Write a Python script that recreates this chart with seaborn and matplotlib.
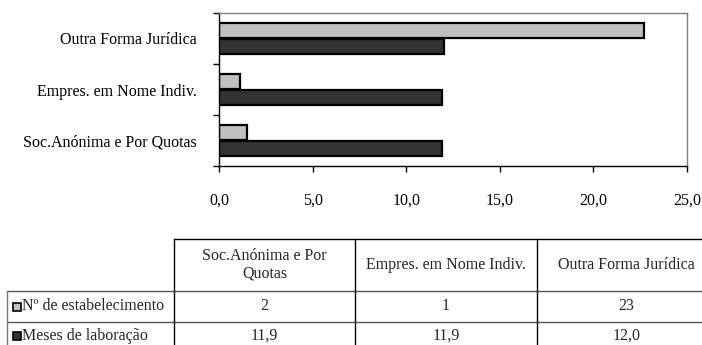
import matplotlib
matplotlib.use("Agg")
import matplotlib.pyplot as plt
import seaborn as sns
import pandas as pd
from matplotlib.patches import Rectangle
from matplotlib.lines import Line2D

# ---- data ----
categories = ["Outra Forma Jurídica", "Empres. em Nome Indiv.", "Soc.Anónima e Por Quotas"]
series = ["Nº de estabelecimento", "Meses de laboração"]
n_estab = [22.7, 1.1, 1.5]
meses = [12.0, 11.9, 11.9]
table_cols = ["Soc.Anónima e Por\nQuotas", "Empres. em Nome Indiv.", "Outra Forma Jurídica"]
table_order = [2, 1, 0]  # indices into categories for table columns
xticks = [0, 5, 10, 15, 20, 25]
colors = ["#c0c0c0", "#333333"]

df = pd.DataFrame({
    "cat": categories * 2,
    "serie": [series[0]] * 3 + [series[1]] * 3,
    "val": n_estab + meses,
})

sns.set_theme(style="white")
plt.rcParams["font.family"] = ["Liberation Serif", "DejaVu Serif"]
FS = 11.5

W, H = 702, 345
fig = plt.figure(figsize=(W / 100, H / 100), dpi=100)
ax = fig.add_axes([219 / W, 1 - 166 / H, (687 - 219) / W, (166 - 13) / H])

sns.barplot(data=df, y="cat", x="val", hue="serie", order=categories,
            hue_order=series, palette=colors, orient="h", width=0.6,
            edgecolor="black", linewidth=1.6, saturation=1, legend=False, ax=ax)

ax.set_xlim(0, 25)
ax.set_ylim(2.5, -0.5)
ax.set_xlabel("")
ax.set_ylabel("")
ax.set_xticks(xticks)
ax.set_xticklabels([f"{v:.1f}".replace(".", ",") for v in xticks], fontsize=FS)
ax.set_yticks(range(len(categories)))
ax.set_yticklabels(categories, fontsize=FS)
ax.set_yticks([-0.5, 0.5, 1.5, 2.5], minor=True)
ax.tick_params(axis="y", which="major", length=0, pad=16, colors="black")
ax.tick_params(axis="y", which="minor", length=4, width=1, direction="out", left=True, color="black")
ax.tick_params(axis="x", which="major", length=4, width=1, direction="out", bottom=True,
               pad=15, colors="black")
for s in ["left", "bottom"]:
    ax.spines[s].set_color("black")
    ax.spines[s].set_linewidth(1.0)
for s in ["top", "right"]:
    ax.spines[s].set_color("#808080")
    ax.spines[s].set_linewidth(1.0)
ax.grid(False)


# ---- data table below ----
def fx(x):
    return x / W


def fy(y):
    return 1 - y / H


def hline(y, x0, x1, c="black"):
    fig.add_artist(Line2D([fx(x0), fx(x1)], [fy(y), fy(y)], transform=fig.transFigure,
                          color=c, lw=1.0))


def vline(x, y0, y1, c="black"):
    fig.add_artist(Line2D([fx(x), fx(x)], [fy(y0), fy(y1)], transform=fig.transFigure,
                          color=c, lw=1.0))


col_x = [174, 355, 537, 716]
row_y = [239, 291, 322, 350]
hline(row_y[0], col_x[0], W)
hline(row_y[1], 7, W, "#555555")
hline(row_y[2], 7, W, "#555555")
vline(7, row_y[1], H, "#777777")
for x in col_x[:3]:
    vline(x, row_y[0], H)

for j, lab in enumerate(table_cols):
    cx = (col_x[j] + col_x[j + 1]) / 2
    fig.text(fx(cx), fy((row_y[0] + row_y[1]) / 2), lab, ha="center", va="center",
             fontsize=FS, linespacing=1.1)
    k = table_order[j]
    fig.text(fx(cx), fy((row_y[1] + row_y[2]) / 2), f"{n_estab[k]:.0f}",
             ha="center", va="center", fontsize=FS)
    fig.text(fx(cx), fy((row_y[2] + row_y[3]) / 2), f"{meses[k]:.1f}".replace(".", ","),
             ha="center", va="center", fontsize=FS)

for i, lab in enumerate(series):
    cy = (row_y[i + 1] + row_y[i + 2]) / 2
    fig.add_artist(Rectangle((fx(13), fy(cy + 4)), fx(8), 8 / H, transform=fig.transFigure,
                             facecolor=colors[i], edgecolor="black", lw=1.2))
    fig.text(fx(22), fy(cy), lab, ha="left", va="center", fontsize=FS)

fig.savefig("out.png", dpi=100)
